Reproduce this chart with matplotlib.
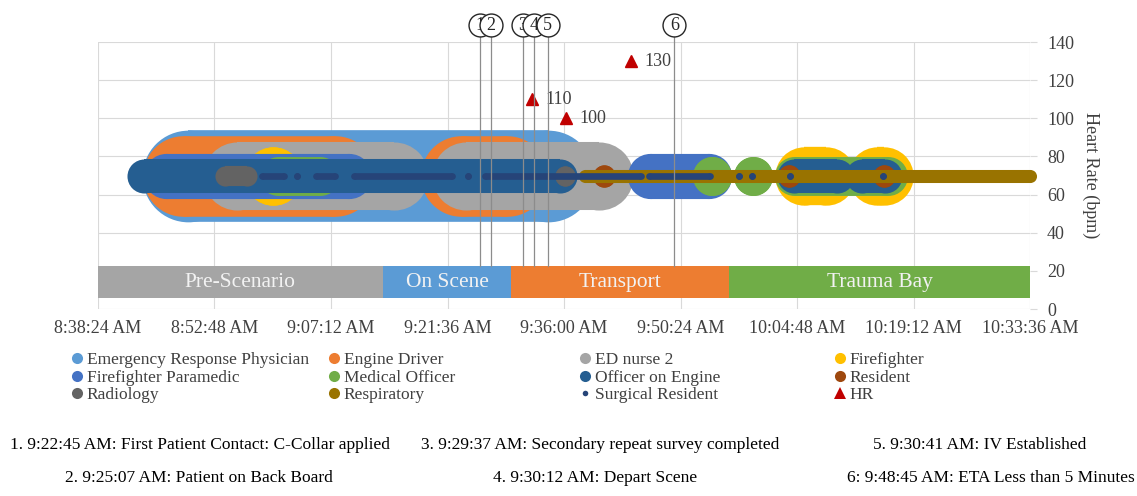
import matplotlib
matplotlib.use("Agg")
from matplotlib import pyplot as plt
from matplotlib.lines import Line2D
from matplotlib.ticker import FuncFormatter, MultipleLocator

# ---- data (clock times) ----
roles = ["Emergency Response Physician", "Engine Driver", "ED nurse 2", "Firefighter",
         "Firefighter Paramedic", "Medical Officer", "Officer on Engine", "Resident",
         "Radiology", "Respiratory", "Surgical Resident"]

erp_spans = [("8:49:30", "9:34:00")]
engine_driver_spans = [("8:48:58", "9:07:45"), ("9:23:12", "9:28:53")]
ed_nurse_spans = [("8:55:35", "9:14:59"), ("9:23:53", "9:40:18")]
firefighter_spans = [("9:00:05", "9:00:05"), ("10:05:38", "10:08:21"), ("10:14:39", "10:15:31")]
ff_paramedic_spans = [("8:46:46", "9:09:29"), ("9:46:40", "9:53:57")]
medical_officer_spans = [("9:00:39", "9:05:50"), ("9:54:16", "9:54:16"), ("9:59:20", "9:59:20"),
                         ("10:04:24", "10:16:01")]
officer_engine_spans = [("8:44:07", "9:35:33"), ("10:04:27", "10:09:46"), ("10:12:51", "10:15:42")]
resident_spans = [("9:40:55", "9:40:55"), ("10:03:47", "10:03:47"), ("10:15:31", "10:15:31")]
radiology_spans = [("8:54:06", "8:56:49"), ("9:36:06", "9:36:06")]
respiratory_spans = [("9:38:38", "10:33:35")]
surgical_spans = [("8:58:43", "9:01:21"), ("9:03:00", "9:03:00"), ("9:05:23", "9:07:39"),
                  ("9:10:04", "9:22:06"), ("9:24:07", "9:24:07"), ("9:26:15", "9:45:27"),
                  ("9:46:31", "9:53:59"), ("9:57:36", "9:57:36"), ("9:59:12", "9:59:12"),
                  ("10:03:54", "10:03:54"), ("10:15:23", "10:15:23")]
bubble_hr = 70

hr_times = ["9:32:00", "9:36:13", "9:44:14"]
hr_values = [110, 100, 130]

phase_names = ["Pre-Scenario", "On Scene", "Transport", "Trauma Bay"]
phase_starts = ["8:38:24", "9:13:36", "9:29:29", "9:56:19"]
phase_ends = ["9:13:36", "9:29:29", "9:56:19", "10:33:36"]

event_line_times = ["9:25:36", "9:26:56", "9:30:53", "9:32:19", "9:33:58", "9:49:37"]
event_notes = ["1. 9:22:45 AM: First Patient Contact: C-Collar applied",
               "2. 9:25:07 AM: Patient on Back Board",
               "3. 9:29:37 AM: Secondary repeat survey completed",
               "4. 9:30:12 AM: Depart Scene",
               "5. 9:30:41 AM: IV Established",
               "6: 9:48:45 AM: ETA Less than 5 Minutes"]

x_start, x_end, x_step = "8:38:24", "10:33:36", 864

# ---- styles ----
role_colors = ["#5B9BD5", "#ED7D31", "#A5A5A5", "#FFC000", "#4472C4", "#70AD47",
               "#255E91", "#9E480E", "#636363", "#997300", "#264478"]
role_sizes = [66, 58, 49, 42, 32.5, 28, 24.5, 16, 14.5, 9.4, 4.8]
phase_colors = ["#A5A5A5", "#5B9BD5", "#ED7D31", "#70AD47"]
hr_color = "#C00000"
grid_color = "#D9D9D9"
txt_color = "#404040"

plt.rcParams['font.family'] = ['Liberation Serif', 'DejaVu Serif']


def tsec(s):
    h, m, sec = map(int, s.split(':'))
    return h * 3600 + m * 60 + sec


def fmt_time(v, pos=None):
    v = int(round(v))
    h, m, s = v // 3600, (v % 3600) // 60, v % 60
    return f"{h}:{m:02d}:{s:02d} AM"


def main():
    fig = plt.figure(figsize=(11.37, 4.96), dpi=100)
    ax = fig.add_axes([0.0861, 0.377, 0.8201, 0.5383])

    ax.set_xlim(tsec(x_start), tsec(x_end))
    ax.set_ylim(0, 140)
    ax.xaxis.set_major_locator(MultipleLocator(x_step))
    ax.xaxis.set_major_formatter(FuncFormatter(fmt_time))
    ax.yaxis.set_major_locator(MultipleLocator(20))
    ax.yaxis.tick_right()
    ax.yaxis.set_label_position('right')
    for sp in ax.spines.values():
        sp.set_visible(False)
    ax.grid(True, color=grid_color, lw=0.8)
    ax.set_axisbelow(True)
    ax.tick_params(axis='x', length=0, pad=8, labelsize=13, labelcolor=txt_color)
    ax.tick_params(axis='y', length=5, color=grid_color, pad=7, labelsize=13, labelcolor=txt_color)
    ax.set_ylabel('Heart Rate (bpm)', rotation=270, fontsize=13, color=txt_color, labelpad=18)

    # phase bars
    for name, a, b, c in zip(phase_names, phase_starts, phase_ends, phase_colors):
        ax.barh(14.1, tsec(b) - tsec(a), left=tsec(a), height=17, color=c, zorder=2)
        ax.text((tsec(a) + tsec(b)) / 2, 14.1, name, ha='center', va='center',
                fontsize=15.5, color='#F2F2F2', zorder=3)

    # bubbles
    all_spans = [erp_spans, engine_driver_spans, ed_nurse_spans, firefighter_spans,
                 ff_paramedic_spans, medical_officer_spans, officer_engine_spans,
                 resident_spans, radiology_spans, respiratory_spans, surgical_spans]
    for k, (spans, c, d) in enumerate(zip(all_spans, role_colors, role_sizes)):
        for a, b in spans:
            ax.plot([tsec(a), tsec(b)], [bubble_hr, bubble_hr], color=c, lw=d,
                    marker='o', ms=d, mew=0, solid_capstyle='butt',
                    clip_on=False, zorder=4 + k * 0.1)

    # heart rate markers
    for t, v in zip(hr_times, hr_values):
        ax.plot(tsec(t), v, marker='^', ms=8.5, color=hr_color, ls='', zorder=6)
        ax.annotate(str(v), (tsec(t), v), xytext=(10, 0), textcoords='offset points',
                    va='center', fontsize=13, color=txt_color, zorder=6)

    # event lines with circled numbers
    for i, t in enumerate(event_line_times):
        x = tsec(t)
        ax.plot([x, x], [22.6, 143], color='#8C8C8C', lw=0.9, clip_on=False, zorder=7)
        ax.plot(x, 148.7, marker='o', ms=16.5, mfc='white', mec='#262626', mew=1.0,
                clip_on=False, zorder=8 + i)
        ax.text(x, 148.5, str(i + 1), ha='center', va='center', fontsize=13,
                color='#262626', zorder=8 + i, clip_on=False)

    # legend: four columns
    handles = []
    for name, c in zip(roles, role_colors):
        ms = 4 if name == "Surgical Resident" else 8
        handles.append(Line2D([], [], ls='', marker='o', ms=ms, color=c, mew=0, label=name))
    handles.append(Line2D([], [], ls='', marker='^', ms=8, color=hr_color, mew=0, label='HR'))
    col_x = [72, 329, 580, 835]
    for j in range(4):
        col = handles[j::4]
        leg = fig.legend(handles=col, loc='upper left',
                         bbox_to_anchor=(col_x[j] / 1137, 1 - 352 / 496),
                         frameon=False, fontsize=12.5, handlelength=0.6,
                         handletextpad=0.25, labelspacing=0.08, borderpad=0,
                         borderaxespad=0)
        for t in leg.get_texts():
            t.set_color(txt_color)

    # event notes
    note_pos = [(200, 445), (199, 478), (600, 445), (595, 478), (980, 445), (991, 478)]
    for (px, py), note in zip(note_pos, event_notes):
        fig.text(px / 1137, 1 - py / 496, note, ha='center', va='center', fontsize=12.5,
                 color='black')

    fig.savefig('out.png', dpi=100)


if __name__ == '__main__':
    main()
